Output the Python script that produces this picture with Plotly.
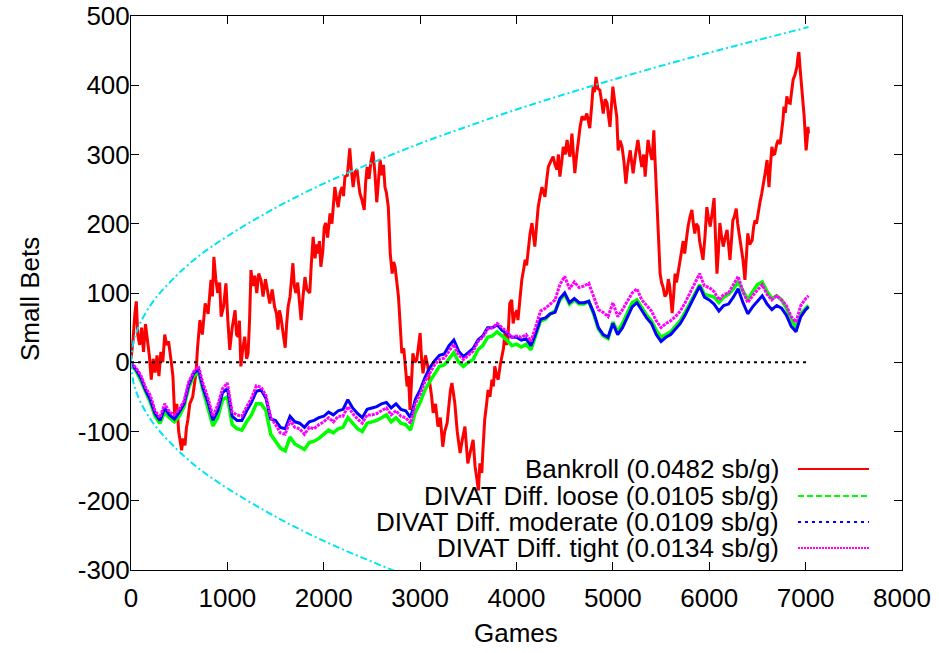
import plotly.graph_objects as go

# ---------------- data ----------------
bankroll_x = [0,20,40,55,70,90,110,130,150,170,190,210,230,250,270,290,310,330,350,370,390,415,435,455,475,495,510,525,540,560,575,590,610,640,660,675,690,715,740,770,800,830,845,860,880,900,920,935,960,985,1005,1025,1050,1080,1095,1110,1125,1140,1160,1180,1200,1215,1230,1245,1265,1285,1305,1325,1350,1370,1395,1420,1440,1465,1490,1510,1525,1540,1555,1575,1600,1615,1630,1650,1665,1680,1695,1710,1730,1750,1765,1785,1805,1825,1855,1870,1890,1910,1925,1940,1955,1970,1990,2005,2020,2040,2065,2085,2100,2115,2135,2150,2170,2190,2205,2220,2245,2270,2285,2305,2325,2345,2360,2375,2395,2420,2435,2450,2470,2490,2510,2530,2550,2565,2585,2605,2620,2635,2650,2670,2690,2710,2725,2740,2760,2775,2790,2800,2810,2830,2845,2865,2880,2895,2910,2925,2945,2965,2980,3000,3015,3030,3055,3080,3100,3120,3135,3160,3185,3210,3235,3255,3280,3300,3315,3330,3345,3360,3385,3400,3415,3440,3465,3480,3495,3520,3550,3570,3590,3605,3620,3640,3650,3670,3690,3705,3725,3745,3760,3775,3795,3810,3830,3850,3865,3880,3895,3910,3930,3950,3965,3985,4005,4015,4035,4055,4075,4090,4105,4120,4140,4160,4175,4190,4210,4225,4245,4265,4280,4295,4315,4330,4355,4380,4400,4420,4435,4450,4470,4485,4505,4525,4540,4555,4575,4590,4605,4625,4640,4660,4680,4705,4730,4745,4760,4780,4795,4810,4825,4845,4865,4885,4900,4920,4940,4955,4970,4985,5000,5020,5040,5055,5075,5095,5115,5135,5155,5180,5195,5210,5235,5260,5280,5300,5320,5335,5350,5365,5385,5405,5415,5425,5435,5445,5460,5470,5480,5490,5505,5520,5540,5560,5575,5590,5605,5615,5630,5645,5660,5675,5695,5715,5730,5745,5760,5780,5800,5820,5835,5850,5865,5885,5900,5915,5935,5955,5975,5990,6010,6030,6050,6065,6080,6095,6110,6125,6145,6165,6185,6200,6215,6230,6245,6260,6280,6295,6310,6330,6350,6370,6385,6400,6420,6445,6460,6475,6490,6505,6525,6545,6560,6580,6600,6610,6620,6635,6650,6665,6680,6700,6715,6735,6755,6765,6775,6790,6805,6820,6840,6855,6870,6890,6910,6920,6930,6945,6960,6975,6985,6995,7005,7015,7025,7030]
bankroll_y = [5,30,70,88,40,25,50,15,55,30,10,-25,5,-15,10,-20,15,0,40,25,30,3,-20,-83,-60,-100,-118,-127,-110,-120,-95,-83,-60,-50,-30,-15,20,61,40,85,70,119,95,152,120,100,115,66,80,114,60,18,50,75,40,37,60,-6,20,37,5,13,60,133,110,125,100,128,118,95,120,100,85,105,80,70,47,75,66,45,21,55,80,95,120,143,110,100,115,80,61,95,123,105,100,140,181,150,170,157,175,138,160,195,201,180,215,200,235,253,235,224,245,253,240,268,270,309,280,253,275,278,260,244,235,220,260,282,265,290,304,275,231,260,292,270,285,253,245,224,157,128,145,138,114,95,61,40,13,20,-1,-35,-20,-69,-30,13,0,3,20,42,5,-16,10,-6,-30,-50,-73,-60,-93,-80,-122,-100,-88,-60,-40,-30,-45,-59,-100,-115,-131,-110,-93,-120,-146,-130,-112,-150,-174,-185,-146,-160,-131,-83,-60,-40,-50,-25,-35,-6,-20,-25,-5,13,20,42,25,32,85,90,56,70,75,61,95,119,135,148,140,162,185,201,180,167,200,224,240,253,245,239,265,282,290,297,285,278,300,268,290,311,300,321,305,297,330,300,273,300,321,340,355,350,359,345,338,370,398,390,412,395,393,375,359,380,374,355,340,370,398,375,355,306,320,311,290,258,285,306,290,273,300,321,300,282,300,268,295,321,305,292,310,335,300,263,230,196,160,128,115,109,95,100,120,109,85,71,95,128,115,128,150,167,175,157,175,196,210,220,200,186,200,196,175,165,148,180,224,210,196,215,237,180,128,160,201,185,167,180,191,170,148,175,205,210,222,200,186,165,148,119,150,186,170,176,195,205,200,215,230,244,260,273,292,270,253,285,311,300,301,315,321,315,335,350,369,360,384,375,374,395,408,415,427,440,448,420,398,375,355,330,306,320,340,330]

divat_x = [0,50,100,150,200,250,300,350,400,450,500,550,600,650,700,750,800,850,900,950,1000,1050,1100,1150,1200,1250,1300,1350,1400,1450,1500,1550,1600,1650,1700,1750,1800,1850,1900,1950,2000,2050,2100,2150,2200,2250,2300,2350,2400,2450,2500,2550,2600,2650,2700,2750,2800,2850,2900,2950,3000,3050,3100,3150,3200,3250,3300,3350,3400,3450,3500,3550,3600,3650,3700,3750,3800,3850,3900,3950,4000,4050,4100,4150,4200,4250,4300,4350,4400,4450,4500,4550,4600,4650,4700,4750,4800,4850,4900,4950,5000,5050,5100,5150,5200,5250,5300,5350,5400,5450,5500,5550,5600,5650,5700,5750,5800,5850,5900,5950,6000,6050,6100,6150,6200,6250,6300,6350,6400,6450,6500,6550,6600,6650,6700,6750,6800,6850,6900,6950,7000,7030]

loose_y = [-4,-12,-26,-42,-58,-78,-88,-72,-80,-86,
           -78,-64,-36,-20,-14,-42,-66,-92,-80,-54,
           -50,-90,-96,-98,-86,-76,-60,-60,-70,-104,
           -114,-124,-128,-108,-118,-122,-126,-116,-114,-110,
           -104,-98,-102,-96,-94,-80,-88,-96,-100,-88,
           -86,-84,-80,-76,-86,-80,-88,-90,-98,-72,
           -58,-40,-28,-16,-6,-4,6,14,0,-6,
           0,4,18,24,36,38,44,38,32,24,
           26,22,26,18,38,60,62,70,74,90,
           98,84,90,84,84,88,70,48,38,34,
           58,44,56,72,86,90,78,68,60,46,
           36,40,44,52,60,72,86,98,112,98,
           96,94,86,94,98,106,116,102,90,102,
           112,116,102,92,96,90,78,62,50,70,
           78,82]
moderate_y = [-2,-10,-22,-40,-54,-74,-84,-66,-76,-82,
              -72,-60,-32,-16,-10,-38,-58,-84,-70,-44,
              -38,-78,-84,-84,-70,-58,-42,-40,-52,-82,
              -84,-94,-96,-78,-86,-88,-94,-86,-84,-80,
              -78,-72,-76,-70,-68,-54,-66,-74,-80,-68,
              -66,-64,-60,-58,-66,-60,-68,-70,-80,-54,
              -40,-22,-8,2,10,12,24,32,16,8,
              14,20,32,38,50,50,54,46,42,36,
              36,32,34,24,42,62,64,70,72,92,
              100,86,92,86,86,88,72,50,40,36,
              56,40,50,66,80,86,74,64,56,40,
              30,36,40,48,56,68,82,94,110,94,
              90,84,74,82,84,94,106,86,70,80,
              88,96,84,76,82,78,68,52,44,66,
              76,80]
tight_y = [0,-8,-18,-36,-48,-70,-80,-60,-72,-76,
           -68,-56,-28,-14,-6,-32,-52,-78,-62,-38,
           -30,-72,-76,-78,-64,-52,-34,-36,-48,-80,
           -90,-102,-104,-84,-94,-96,-104,-94,-96,-90,
           -86,-80,-86,-78,-78,-64,-74,-82,-88,-76,
           -76,-74,-70,-66,-76,-70,-78,-80,-88,-60,
           -46,-28,-16,-4,4,6,16,26,10,4,
           10,16,30,36,48,50,56,50,44,36,
           38,36,40,30,52,74,78,84,90,112,
           124,106,116,108,110,114,96,76,72,66,
           86,66,76,88,100,106,90,82,74,60,
           50,56,60,66,74,86,100,112,128,110,
           108,102,90,98,100,112,124,102,86,96,
           104,112,98,90,96,90,82,66,58,82,
           92,96]

# +/- confidence envelope (cyan)
env_x = [0,25,50,100,200,300,400,500,700,1000,1500,2000,2500,3000,3500,4000,4500,5000,5500,6000,6500,7030]
env_upper = [0,29,41,58,82,100,115,129,153,182,223,258,288,316,341,365,387,408,428,447,465,484]
env_lower = [0,-29,-41,-58,-82,-100,-115,-129,-153,-182,-223,-258,-288,-316,-341,-365,-387,-408,-428,-447,-465,-484]

zero_x = [0,7030]
zero_y = [0,0]

legend_labels = ["Bankroll (0.0482 sb/g)", "DIVAT Diff. loose (0.0105 sb/g)",
                 "DIVAT Diff. moderate (0.0109 sb/g)", "DIVAT Diff. tight (0.0134 sb/g)"]

x_ticks = [0,1000,2000,3000,4000,5000,6000,7000,8000]
y_ticks = [-300,-200,-100,0,100,200,300,400,500]

# ---------------- styling ----------------
RED, GREEN, BLUE, MAGENTA, CYAN = "#ff0000", "#00ff00", "#0000ff", "#ff00ff", "#00e5ee"
FONT = "Liberation Sans"
FS = 26
LFS = 26

W, H = 939, 653
L, R, T, B = 131, 37, 16, 83
PW, PH = W - L - R, H - T - B

fig = go.Figure()
fig.add_trace(go.Scatter(x=bankroll_x, y=bankroll_y, mode="lines",
                         line=dict(color=RED, width=3), showlegend=False))
fig.add_trace(go.Scatter(x=divat_x, y=loose_y, mode="lines",
                         line=dict(color=GREEN, width=3.5), showlegend=False))
fig.add_trace(go.Scatter(x=divat_x, y=moderate_y, mode="lines",
                         line=dict(color=BLUE, width=3), showlegend=False))
fig.add_trace(go.Scatter(x=divat_x, y=tight_y, mode="lines",
                         line=dict(color=MAGENTA, width=3, dash="3px,1px"), showlegend=False))
fig.add_trace(go.Scatter(x=env_x, y=env_upper, mode="lines", line_shape="spline",
                         line=dict(color=CYAN, width=2, dash="7px,3px,2px,3px"), showlegend=False))
fig.add_trace(go.Scatter(x=env_x, y=env_lower, mode="lines", line_shape="spline",
                         line=dict(color=CYAN, width=2, dash="7px,3px,2px,3px"), showlegend=False))
fig.add_trace(go.Scatter(x=zero_x, y=zero_y, mode="lines",
                         line=dict(color="black", width=2, dash="3px,4px"), showlegend=False))

def px2paper_x(px):
    return (px - L) / PW

def py2paper_y(py):
    return (H - B - py) / PH

leg_styles = [(RED, "solid", 2), (GREEN, "6px,3px", 2), (BLUE, "3px,4px", 2), (MAGENTA, "2px,1px", 2)]
leg_rows = [469, 496, 522, 548]
shapes = []
annotations = []
for lab, (col, dash, w), py in zip(legend_labels, leg_styles, leg_rows):
    annotations.append(dict(x=px2paper_x(781), y=py2paper_y(py), xref="paper", yref="paper",
                            text=lab, showarrow=False, xanchor="right", yanchor="middle",
                            font=dict(family=FONT, size=LFS, color="black")))
    shapes.append(dict(type="line", xref="paper", yref="paper",
                       x0=px2paper_x(798), x1=px2paper_x(869),
                       y0=py2paper_y(py), y1=py2paper_y(py),
                       line=dict(color=col, width=w, dash=dash)))

annotations.append(dict(x=px2paper_x(30), y=py2paper_y(299), xref="paper", yref="paper",
                        text="Small Bets", textangle=-90, showarrow=False,
                        xanchor="center", yanchor="middle",
                        font=dict(family=FONT, size=FS, color="black")))
annotations.append(dict(x=px2paper_x(516), y=py2paper_y(633), xref="paper", yref="paper",
                        text="Games", showarrow=False, xanchor="center", yanchor="middle",
                        font=dict(family=FONT, size=FS, color="black")))

axis_common = dict(showgrid=False, zeroline=False, showline=True, linecolor="black", linewidth=1,
                   mirror="ticks", ticks="inside", ticklen=8, tickwidth=1, tickcolor="black",
                   automargin=False,
                   tickfont=dict(family=FONT, size=FS, color="black"))

fig.update_layout(
    width=W, height=H, autosize=False,
    margin=dict(l=L, r=R, t=T, b=B, pad=0, autoexpand=False),
    paper_bgcolor="white", plot_bgcolor="white",
    xaxis=dict(range=[0, 8000], tickvals=x_ticks, ticktext=[str(v) for v in x_ticks],
               ticklabelstandoff=5, **axis_common),
    yaxis=dict(range=[-300, 500], tickvals=y_ticks, ticktext=[str(v) for v in y_ticks],
               ticklabelstandoff=-5, **axis_common),
    shapes=shapes, annotations=annotations, showlegend=False,
)

fig.write_html("out.html")
